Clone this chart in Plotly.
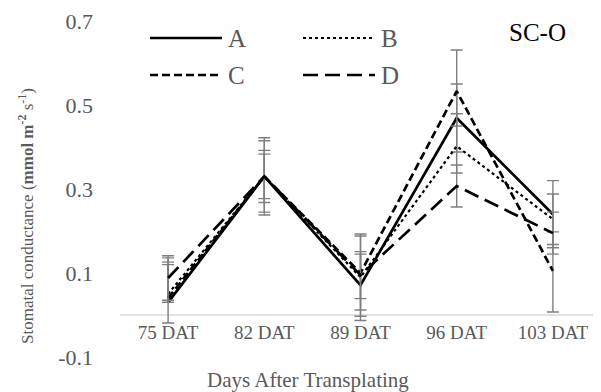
import plotly.graph_objects as go

# Sampling dates
categories = ["75 DAT", "82 DAT", "89 DAT", "96 DAT", "103 DAT"]

# Mean stomatal conductance per treatment
series_names = ["A", "B", "C", "D"]
vals_a = [0.030, 0.330, 0.071, 0.469, 0.240]
vals_b = [0.050, 0.330, 0.090, 0.402, 0.228]
vals_c = [0.040, 0.330, 0.100, 0.533, 0.105]
vals_d = [0.088, 0.330, 0.095, 0.307, 0.195]

# Error bar extents (upper / lower)
err_up_a = [0.090, 0.092, 0.074, 0.081, 0.080]
err_dn_a = [0.049, 0.092, 0.074, 0.081, 0.080]
err_up_b = [0.076, 0.085, 0.103, 0.077, 0.060]
err_dn_b = [0.020, 0.085, 0.103, 0.064, 0.060]
err_up_c = [0.096, 0.062, 0.088, 0.098, 0.093]
err_dn_c = [0.010, 0.062, 0.088, 0.083, 0.098]
err_up_d = [0.053, 0.053, 0.056, 0.050, 0.050]
err_dn_d = [0.053, 0.053, 0.056, 0.050, 0.050]

y_ticks = [-0.1, 0.1, 0.3, 0.5, 0.7]
y_tick_text = ["-0.1", "0.1", "0.3", "0.5", "0.7"]

FONT = "Liberation Serif, Times New Roman, serif"
GRAY = "#595959"

styles = {
    "A": dict(dash="solid", width=2.7),
    "B": dict(dash="3px,3px", width=2.2),
    "C": dict(dash="8px,4px", width=2.7),
    "D": dict(dash="15px,7px", width=2.7),
}
data = {
    "A": (vals_a, err_up_a, err_dn_a),
    "B": (vals_b, err_up_b, err_dn_b),
    "C": (vals_c, err_up_c, err_dn_c),
    "D": (vals_d, err_up_d, err_dn_d),
}

fig = go.Figure()
for name in series_names:
    vals, up, dn = data[name]
    fig.add_trace(go.Scatter(
        x=categories, y=vals, name=name, mode="lines",
        line=dict(color="black", width=styles[name]["width"], dash=styles[name]["dash"]),
        error_y=dict(type="data", symmetric=False, array=up, arrayminus=dn,
                     color="#7f7f7f", thickness=1.4, width=6),
        showlegend=False,
    ))

# plot area geometry in pixels
L, R, T, B = 120, 0, 21, 35
W, H = 601 - L - R, 392 - T - B


def px_x(p):
    return (p - L) / W


def px_y(p):
    return (392 - B - p) / H


# horizontal axis line at zero
fig.add_shape(type="line", xref="paper", yref="y", x0=0, x1=px_x(593), y0=0, y1=0,
              line=dict(color="#d9d9d9", width=1.3), layer="below")

# legend laid out in two columns
legend_pos = {"A": (150, 38), "B": (303, 38), "C": (150, 75), "D": (303, 75)}
for name in series_names:
    x0, yy = legend_pos[name]
    fig.add_shape(type="line", xref="paper", yref="paper",
                  x0=px_x(x0), x1=px_x(x0 + 72), y0=px_y(yy), y1=px_y(yy),
                  line=dict(color="black", width=styles[name]["width"], dash=styles[name]["dash"]))
    fig.add_annotation(x=px_x(x0 + 76), y=px_y(yy), xref="paper", yref="paper",
                       text=name, showarrow=False, xanchor="left", yanchor="middle",
                       font=dict(family=FONT, size=25, color=GRAY))

fig.add_annotation(x=px_x(537), y=px_y(33), xref="paper", yref="paper", text="SC-O",
                   showarrow=False, xanchor="center", yanchor="middle",
                   font=dict(family=FONT, size=25, color="black"))

fig.add_annotation(x=px_x(308), y=px_y(380), xref="paper", yref="paper",
                   text="Days After Transplating", showarrow=False,
                   xanchor="center", yanchor="middle",
                   font=dict(family=FONT, size=21, color=GRAY))

fig.add_annotation(x=px_x(26), y=px_y(216), xref="paper", yref="paper",
                   text="Stomatal conductance (<b>mmol m<sup>-2</sup></b> s<sup>-1</sup>)",
                   textangle=-90, showarrow=False, xanchor="center", yanchor="middle",
                   font=dict(family=FONT, size=17, color=GRAY))

fig.update_layout(
    width=601, height=392,
    margin=dict(l=L, r=R, t=T, b=B, pad=0),
    paper_bgcolor="white", plot_bgcolor="white",
    font=dict(family=FONT),
    xaxis=dict(
        type="category", range=[-0.5, 4.5], showgrid=False, zeroline=False,
        showline=False, ticks="", anchor="free", position=0.125,
        tickfont=dict(family=FONT, size=19, color=GRAY), ticklabelstandoff=4,
    ),
    yaxis=dict(
        range=[-0.1, 0.7], tickvals=y_ticks, ticktext=y_tick_text,
        showgrid=False, zeroline=False, showline=False, ticks="",
        tickfont=dict(family=FONT, size=22, color=GRAY), ticklabelstandoff=26,
    ),
)

fig.write_html("out.html")
